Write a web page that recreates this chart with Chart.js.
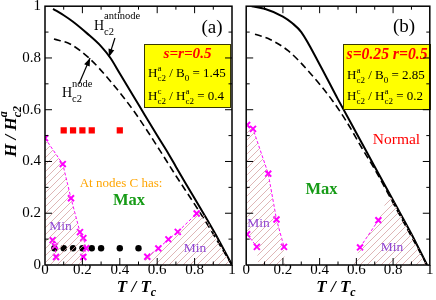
<!DOCTYPE html>
<html>
<head>
<meta charset="utf-8">
<script src="https://cdn.jsdelivr.net/npm/chart.js@4.4.1/dist/chart.umd.min.js"></script>
<style>
  html, body { margin: 0; padding: 0; background: #fff; }
  #wrap { position: relative; width: 436px; height: 300px; overflow: hidden; }
  #chartA { position: absolute; left: 0; top: 0; width: 240px; height: 300px; }
  #chartB { position: absolute; left: 240px; top: 0; width: 196px; height: 300px; }
</style>
</head>
<body>
<div id="wrap">
  <canvas id="chartA" width="240" height="300"></canvas>
  <canvas id="chartB" width="196" height="300"></canvas>
</div>
<script>
const SERIF = "'Liberation Serif', 'DejaVu Serif', serif";

// --- panel (a): s = r = 0.5 ---
const aAntiT = [0.043, 0.1, 0.15, 0.225, 0.3, 0.35, 0.4, 0.5, 0.6, 0.66, 0.7, 0.75, 0.85, 0.93, 1.0];
const aAntiH = [0.99, 0.965, 0.94, 0.895, 0.845, 0.8, 0.74, 0.62, 0.5, 0.43, 0.38, 0.318, 0.196, 0.095, 0.0];
const aNodeT = [0.048, 0.134, 0.235, 0.35, 0.47, 0.55, 0.615, 0.7, 0.75, 0.84, 0.92, 1.0];
const aNodeH = [0.873, 0.854, 0.8, 0.71, 0.6, 0.515, 0.442, 0.345, 0.29, 0.19, 0.095, 0.0];
const aMinLeftT = [0, 0.095, 0.139, 0.187, 0.205, 0.22, 0.205];
const aMinLeftH = [0.49, 0.39, 0.258, 0.127, 0.104, 0.065, 0.031];
const aMinLowT = [0.041, 0.053, 0.059];
const aMinLowH = [0.096, 0.073, 0.031];
const aMinRightT = [0.547, 0.606, 0.66, 0.71, 0.811];
const aMinRightH = [0.032, 0.064, 0.099, 0.128, 0.199];
const aDotT = [0.05, 0.1, 0.15, 0.2, 0.25, 0.3, 0.4, 0.5];
const aDotH = [0.065, 0.065, 0.065, 0.065, 0.065, 0.065, 0.065, 0.065];
const aSquareT = [0.1, 0.15, 0.2, 0.25, 0.4];
const aSquareH = [0.52, 0.52, 0.52, 0.52, 0.52];
const aHatchLeftT = [0, 0.095, 0.139, 0.187, 0.205, 0.22, 0.205, 0.2, 0];
const aHatchLeftH = [0.49, 0.39, 0.258, 0.127, 0.104, 0.065, 0.031, 0, 0];
const aHatchRightT = [0.525, 0.547, 0.606, 0.66, 0.71, 0.811, 0.848, 0.93, 1.0];
const aHatchRightH = [0, 0.032, 0.064, 0.099, 0.128, 0.199, 0.198, 0.095, 0];

// --- panel (b): s = 0.25, r = 0.5 ---
const bAntiT = [0.03, 0.1, 0.2, 0.25, 0.3, 0.4, 0.5, 0.6, 0.7, 0.8, 0.9, 0.985];
const bAntiH = [1.0, 0.99, 0.96, 0.935, 0.9, 0.775, 0.64, 0.51, 0.38, 0.25, 0.12, 0.0];
const bNodeT = [0.048, 0.12, 0.23, 0.35, 0.47, 0.55, 0.63, 0.7, 0.77, 0.85, 0.985];
const bNodeH = [0.892, 0.875, 0.827, 0.74, 0.635, 0.55, 0.452, 0.37, 0.28, 0.175, 0.0];
const bMinLeftT = [0.005, 0.037, 0.12, 0.165, 0.206];
const bMinLeftH = [0.541, 0.526, 0.353, 0.176, 0.07];
const bMinLowT = [0.005, 0.058];
const bMinLowH = [0.119, 0.07];
const bMinRightT = [0.62, 0.72];
const bMinRightH = [0.068, 0.173];
const bHatchLeftT = [0.005, 0.037, 0.12, 0.165, 0.206, 0.21, 0.065, 0.058, 0.005];
const bHatchLeftH = [0.541, 0.526, 0.353, 0.176, 0.07, 0, 0, 0.07, 0.119];
const bHatchRightT = [0.585, 0.62, 0.72, 0.78, 0.9, 0.985];
const bHatchRightH = [0, 0.068, 0.173, 0.276, 0.12, 0];

const pts = (ts, hs) => ts.map((t, i) => ({ x: t, y: hs[i] }));

function hatchPattern(canvas) {
  const n = 7;
  const c = document.createElement('canvas');
  c.width = n; c.height = n;
  const g = c.getContext('2d');
  g.strokeStyle = '#d6a3a3';
  g.lineWidth = 0.8;
  g.beginPath();
  g.moveTo(0, n); g.lineTo(n, 0);
  g.moveTo(-1, 1); g.lineTo(1, -1);
  g.moveTo(n - 1, n + 1); g.lineTo(n + 1, n - 1);
  g.stroke();
  return canvas.getContext('2d').createPattern(c, 'repeat');
}

function hatch(ts, hs, pattern) {
  return { data: pts(ts, hs), fill: 'shape', backgroundColor: pattern, borderColor: 'rgba(0,0,0,0)',
           borderWidth: 0, pointRadius: 0, tension: 0 };
}
function hc2(ts, hs, dash) {
  return { data: pts(ts, hs), borderColor: '#000', borderWidth: dash.length ? 1.6 : 2, borderDash: dash,
           pointRadius: 0, fill: false, cubicInterpolationMode: 'monotone' };
}
function minLine(ts, hs) {
  return { data: pts(ts, hs), borderColor: '#ff00ff', borderWidth: 1, borderDash: [3, 2], fill: false, tension: 0,
           pointStyle: 'crossRot', pointRadius: 4.2, pointBorderWidth: 2,
           pointBorderColor: '#ff00ff', pointBackgroundColor: '#ff00ff' };
}
function marks(ts, hs, style, r, color) {
  return { data: pts(ts, hs), showLine: false, pointStyle: style, pointRadius: r,
           pointBackgroundColor: color, pointBorderColor: color, pointBorderWidth: 0 };
}

// text with sub/superscripts
function rich(ctx, x, y, parts, align) {
  const fontOf = p => `${p.f || ''} ${p.s}px ${SERIF}`;
  const widthOf = p => {
    ctx.font = fontOf(p);
    if (p.sub !== undefined) return Math.max(ctx.measureText(p.sub).width, ctx.measureText(p.sup).width);
    return ctx.measureText(p.t).width;
  };
  const total = parts.reduce((w, p) => w + widthOf(p), 0);
  let cx = align === 'center' ? x - total / 2 : x;
  ctx.textAlign = 'left';
  ctx.textBaseline = 'alphabetic';
  for (const p of parts) {
    const w = widthOf(p);
    if (p.sub !== undefined) {
      ctx.fillText(p.sub, cx, y + p.dsub);
      ctx.fillText(p.sup, cx, y + p.dsup);
    } else {
      ctx.fillText(p.t, cx, y + (p.dy || 0));
    }
    cx += w;
  }
}

// font size that makes a bold italic title fill a given width
function fitSize(ctx, text, width, max) {
  ctx.font = `italic bold 20px ${SERIF}`;
  return Math.min(max, 20 * width / ctx.measureText(text).width);
}

function arrow(chart, from, to) {
  const { ctx, scales: { x, y } } = chart;
  const x0 = x.getPixelForValue(from[0]), y0 = y.getPixelForValue(from[1]);
  const x1 = x.getPixelForValue(to[0]), y1 = y.getPixelForValue(to[1]);
  const ang = Math.atan2(y1 - y0, x1 - x0);
  ctx.strokeStyle = '#000';
  ctx.fillStyle = '#000';
  ctx.lineWidth = 1.2;
  ctx.beginPath(); ctx.moveTo(x0, y0); ctx.lineTo(x1, y1); ctx.stroke();
  ctx.beginPath();
  ctx.moveTo(x1, y1);
  ctx.lineTo(x1 - 8 * Math.cos(ang) + 3 * Math.sin(ang), y1 - 8 * Math.sin(ang) - 3 * Math.cos(ang));
  ctx.lineTo(x1 - 8 * Math.cos(ang) - 3 * Math.sin(ang), y1 - 8 * Math.sin(ang) + 3 * Math.cos(ang));
  ctx.closePath(); ctx.fill();
}

function yellowBox(ctx, x, y, w, h, title, titleW, ratio1, ratio2, base) {
  ctx.fillStyle = '#ffff00';
  ctx.fillRect(x, y, w, h);
  ctx.strokeStyle = '#3a3a00';
  ctx.lineWidth = 1;
  ctx.strokeRect(x + 0.5, y + 0.5, w - 1, h - 1);
  ctx.fillStyle = '#ff0000';
  const ts = fitSize(ctx, title, titleW, 16);
  rich(ctx, x + w / 2, base[0], [{ t: title, s: ts, f: 'italic bold' }], 'center');
  ctx.fillStyle = '#000';
  rich(ctx, x + 4, base[1], [
    { t: 'H', s: 13 }, { sub: 'c2', sup: 'a', s: 9, dsub: 4, dsup: -6 },
    { t: ' / B', s: 13 }, { t: '0', s: 9, dy: 4 }, { t: ' = ' + ratio1, s: 13 }
  ]);
  rich(ctx, x + 4, base[2], [
    { t: 'H', s: 13 }, { sub: 'c2', sup: 'c', s: 9, dsub: 4, dsup: -6 },
    { t: ' / H', s: 13 }, { sub: 'c2', sup: 'a', s: 9, dsub: 4, dsup: -6 }, { t: ' = ' + ratio2, s: 13 }
  ]);
}

function label(ctx, text, x, y, size, color, style) {
  ctx.fillStyle = color;
  rich(ctx, x, y, [{ t: text, s: size, f: style || '' }], 'center');
}

const frameTicks = {
  id: 'frameTicks',
  afterDraw(chart) {
    const { ctx, chartArea: a, scales: { x, y } } = chart;
    ctx.save();
    ctx.strokeStyle = '#000';
    ctx.lineWidth = 1;
    for (let i = 1; i < 10; i++) {
      const len = i % 2 ? 3.5 : 7;
      const px = x.getPixelForValue(i / 10), py = y.getPixelForValue(i / 10);
      ctx.beginPath();
      ctx.moveTo(px, a.bottom); ctx.lineTo(px, a.bottom - len);
      ctx.moveTo(px, a.top); ctx.lineTo(px, a.top + len);
      ctx.moveTo(a.left, py); ctx.lineTo(a.left + len, py);
      ctx.moveTo(a.right, py); ctx.lineTo(a.right - len, py);
      ctx.stroke();
    }
    ctx.lineWidth = 1.5;
    ctx.strokeRect(a.left, a.top, a.right - a.left, a.bottom - a.top);
    // x title
    ctx.fillStyle = '#000';
    const xc = (a.left + a.right) / 2 - 2;
    rich(ctx, xc, 292, [{ t: 'T / T', s: 17, f: 'italic bold' }, { t: 'c', s: 12, f: 'italic bold', dy: 4 }], 'center');
    ctx.restore();
  }
};

const notesA = {
  id: 'notesA',
  afterDatasetsDraw(chart) {
    const { ctx } = chart;
    ctx.save();
    yellowBox(ctx, 144, 44, 87, 64, 's=r=0.5', 48, '1.45', '0.4', [58, 77, 100]);
    ctx.fillStyle = '#000';
    ctx.font = `19px ${SERIF}`;
    ctx.textAlign = 'center'; ctx.textBaseline = 'middle';
    ctx.fillText('(a)', 212, 28);
    rich(ctx, 94, 30, [{ t: 'H', s: 14 }, { sub: 'c2', sup: 'antinode', s: 10.5, dsub: 5, dsup: -11 }]);
    rich(ctx, 62, 97, [{ t: 'H', s: 14 }, { sub: 'c2', sup: 'node', s: 10.5, dsub: 5, dsup: -10 }]);
    arrow(chart, [0.374, 0.877], [0.342, 0.804]);
    arrow(chart, [0.182, 0.7], [0.241, 0.8]);
    label(ctx, 'At nodes C has:', 121, 187, 13, '#ffa500');
    label(ctx, 'Max', 129, 205, 16.5, '#169b16', 'bold');
    label(ctx, 'Min', 60.5, 230, 13.5, '#9146d2');
    label(ctx, 'Min', 195, 252, 13.5, '#9146d2');
    ctx.restore();
  },
  afterDraw(chart) {
    const { ctx } = chart;
    ctx.save();
    ctx.fillStyle = '#000';
    ctx.translate(16, 157);
    ctx.rotate(-Math.PI / 2);
    rich(ctx, 0, 0, [{ t: 'H / H', s: 17, f: 'italic bold' },
                     { sub: 'c2', sup: 'a', s: 12, f: 'italic bold', dsub: 5, dsup: -9 }]);
    ctx.restore();
  }
};

const notesB = {
  id: 'notesB',
  afterDatasetsDraw(chart) {
    const { ctx } = chart;
    ctx.save();
    yellowBox(ctx, 103, 44, 88, 66, 's=0.25 r=0.5', 81, '2.85', '0.2', [59, 79, 100]);
    ctx.fillStyle = '#000';
    ctx.font = `19px ${SERIF}`;
    ctx.textAlign = 'center'; ctx.textBaseline = 'middle';
    ctx.fillText('(b)', 164, 27);
    label(ctx, 'Normal', 156.5, 144, 15.5, '#ff0000');
    label(ctx, 'Max', 81.5, 194, 16.5, '#169b16', 'bold');
    label(ctx, 'Min', 18.5, 227, 13.5, '#9146d2');
    label(ctx, 'Min', 152, 251, 13.5, '#9146d2');
    ctx.restore();
  }
};

function scales(showY) {
  const tickFont = { family: SERIF, size: 15 };
  const fmt = v => String(Math.round(v * 10) / 10);
  return {
    x: {
      type: 'linear', min: 0, max: 1,
      grid: { display: false, drawTicks: false }, border: { display: false },
      ticks: { stepSize: 0.2, padding: -4, color: '#000', font: tickFont, maxRotation: 0, autoSkip: false, callback: fmt },
      afterFit: s => { s.height = 35; s.paddingLeft = 0; s.paddingRight = 0; }
    },
    y: {
      type: 'linear', min: 0, max: 1, display: showY,
      grid: { display: false, drawTicks: false }, border: { display: false },
      ticks: { stepSize: 0.2, padding: 4, color: '#000', font: tickFont, callback: fmt },
      afterFit: s => { s.width = showY ? 45 : 0; s.paddingTop = 0; s.paddingBottom = 0; }
    }
  };
}

function makeChart(id, datasets, showY, padding, notes) {
  return new Chart(document.getElementById(id), {
    type: 'line',
    data: { datasets },
    options: {
      responsive: false,
      animation: false,
      events: [],
      layout: { padding },
      scales: scales(showY),
      plugins: { legend: { display: false }, tooltip: { enabled: false } }
    },
    plugins: [frameTicks, notes]
  });
}

const canvasA = document.getElementById('chartA');
const canvasB = document.getElementById('chartB');
const patA = hatchPattern(canvasA);
const patB = hatchPattern(canvasB);

makeChart('chartA', [
  hatch(aHatchLeftT, aHatchLeftH, patA),
  hatch(aHatchRightT, aHatchRightH, patA),
  hc2(aAntiT, aAntiH, []),
  hc2(aNodeT, aNodeH, [7, 4]),
  minLine(aMinLeftT, aMinLeftH),
  minLine(aMinLowT, aMinLowH),
  minLine(aMinRightT, aMinRightH),
  marks(aDotT, aDotH, 'circle', 3.2, '#000'),
  marks(aSquareT, aSquareH, 'rect', 4.4, '#ff0000')
], true, { left: 0, right: 8, top: 5, bottom: 0 }, notesA);

makeChart('chartB', [
  hatch(bHatchLeftT, bHatchLeftH, patB),
  hatch(bHatchRightT, bHatchRightH, patB),
  hc2(bAntiT, bAntiH, []),
  hc2(bNodeT, bNodeH, [7, 4]),
  minLine(bMinLeftT, bMinLeftH),
  minLine(bMinLowT, bMinLowH),
  minLine(bMinRightT, bMinRightH)
], false, { left: 4, right: 4, top: 5, bottom: 0 }, notesB);
</script>
</body>
</html>
